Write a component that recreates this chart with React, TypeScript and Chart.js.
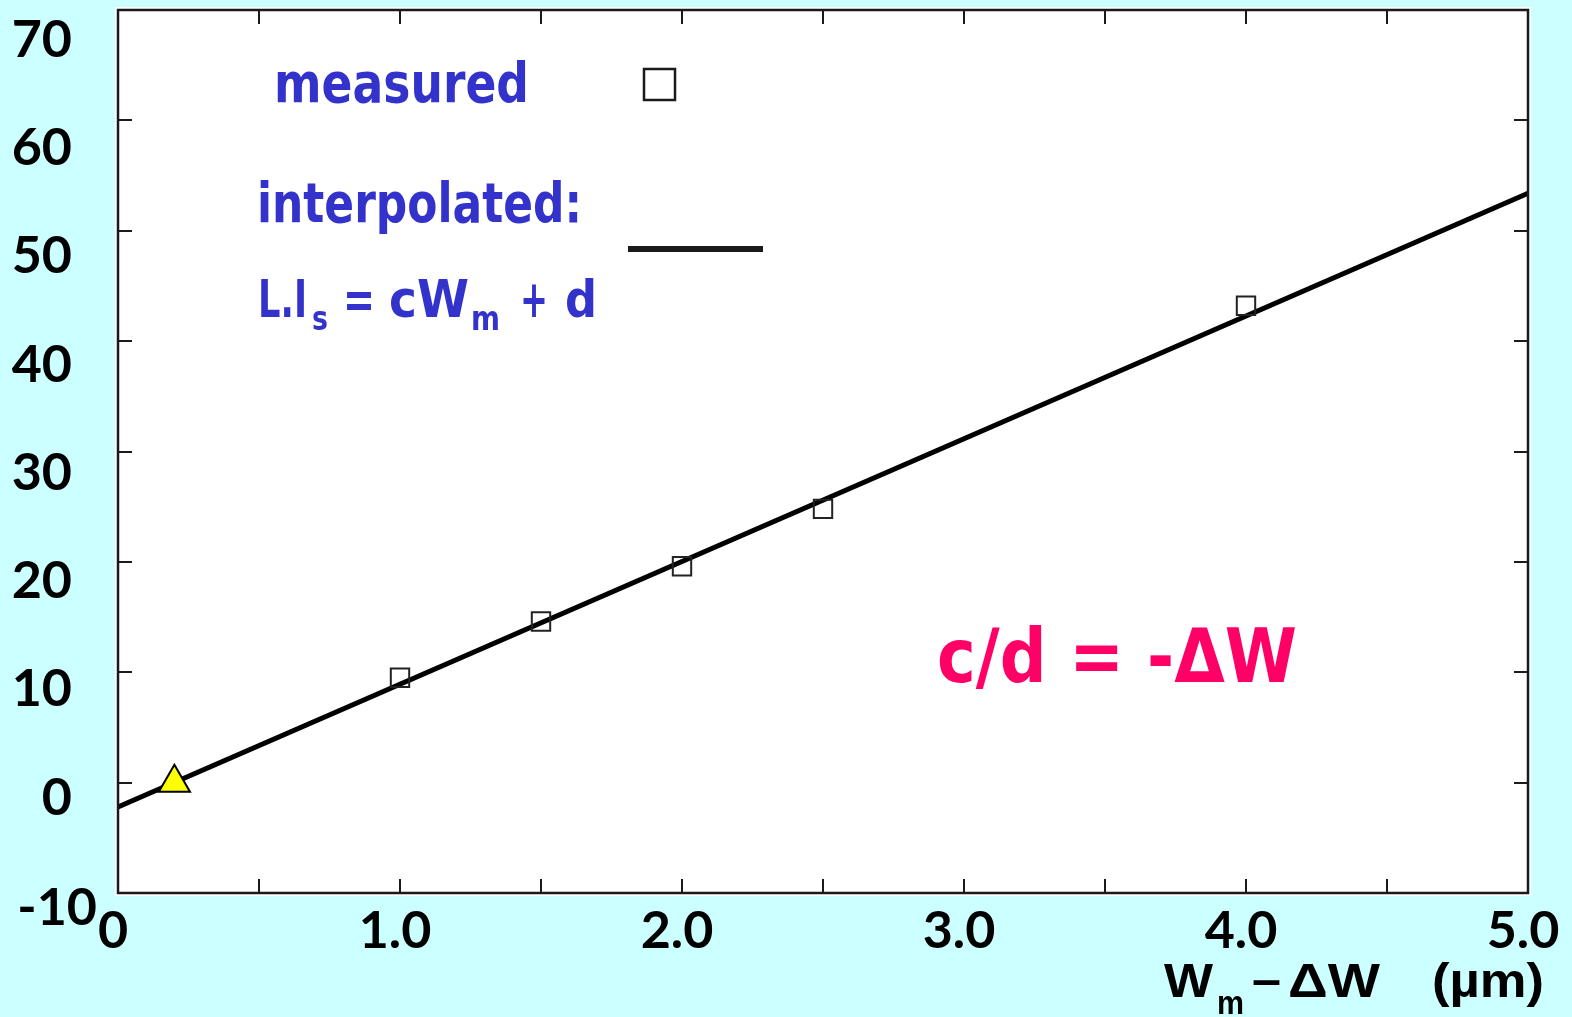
import React, { useEffect, useRef } from 'react';
import { Chart, registerables } from 'chart.js';

Chart.register(...registerables);

// ---- data ----
const measuredX = [1.0, 1.5, 2.0, 2.5, 4.0];
const measuredY = [9.5, 14.6, 19.6, 24.8, 43.2];
const fitX = [0, 5.0];
const fitY = [-2.2, 53.4];
const interceptX = [0.2];
const interceptY = [0];
const xTickValues = [0, 1, 2, 3, 4, 5];
const xTickLabels = ['0', '1.0', '2.0', '3.0', '4.0', '5.0'];
const yTickValues = [-10, 0, 10, 20, 30, 40, 50, 60, 70];
const yTickLabels = ['-10', '0', '10', '20', '30', '40', '50', '60', '70'];

const BLUE = '#3333cc';
const PINK = '#ff0066';
const CYAN = '#ccffff';
const INK = '#1a1a1a';
const DIGIT_FONT = 'bold 52px Lato';
const GEO = '"DejaVu Sans"';

// draw text, squeezed horizontally to a target width when given
function drawText(ctx: CanvasRenderingContext2D, text: string, x: number, y: number, font: string, width?: number) {
  ctx.font = font;
  const w = ctx.measureText(text).width;
  ctx.save();
  ctx.translate(x, y);
  if (width && w > 0) ctx.scale(width / w, 1);
  ctx.fillText(text, 0, 0);
  ctx.restore();
}

const backgroundPlugin = {
  id: 'bg',
  beforeDraw(chart: any) {
    const { ctx, chartArea } = chart;
    ctx.save();
    ctx.fillStyle = CYAN;
    ctx.fillRect(0, 0, chart.width, chart.height);
    ctx.fillStyle = '#ffffff';
    ctx.fillRect(chartArea.left - 3, chartArea.top - 3, chartArea.right - chartArea.left + 6, chartArea.bottom - chartArea.top + 6);
    ctx.restore();
  },
};

const frameTicksPlugin = {
  id: 'frameTicks',
  afterDatasetsDraw(chart: any) {
    const { ctx, chartArea, scales } = chart;
    const { left, right, top, bottom } = chartArea;
    const len = 14;
    ctx.save();
    ctx.strokeStyle = INK;
    ctx.lineWidth = 2;
    ctx.beginPath();
    scales.x.ticks.forEach((t: any) => {
      const px = Math.round(scales.x.getPixelForValue(t.value));
      if (px <= left + 1 || px >= right - 1) return;
      ctx.moveTo(px, bottom);
      ctx.lineTo(px, bottom - len);
      ctx.moveTo(px, top);
      ctx.lineTo(px, top + len);
    });
    scales.y.ticks.forEach((t: any) => {
      const py = Math.round(scales.y.getPixelForValue(t.value));
      if (py <= top + 1 || py >= bottom - 1) return;
      ctx.moveTo(left, py);
      ctx.lineTo(left + len, py);
      ctx.moveTo(right, py);
      ctx.lineTo(right - len, py);
    });
    ctx.stroke();
    ctx.lineWidth = 2.5;
    ctx.strokeRect(left, top, right - left, bottom - top);
    ctx.restore();
  },
};

const annotationsPlugin = {
  id: 'annotations',
  afterDraw(chart: any) {
    const { ctx, scales } = chart;
    ctx.save();
    ctx.textBaseline = 'alphabetic';
    ctx.textAlign = 'left';

    // y tick labels (right aligned, left of the frame)
    ctx.fillStyle = '#000';
    ctx.font = DIGIT_FONT;
    ctx.textAlign = 'right';
    yTickValues.forEach((v, i) => {
      const py = scales.y.getPixelForValue(v);
      const isBottom = v === yTickValues[0];
      const xr = isBottom ? 97 : 72;
      const base = py + 32 + Math.max(v, 0) * 0.21;
      ctx.fillText(yTickLabels[i], xr, base);
    });
    ctx.textAlign = 'left';

    // legend texts
    ctx.fillStyle = BLUE;
    const big = `bold 55px ${GEO}`;
    const sub = `bold 33px ${GEO}`;
    drawText(ctx, 'measured', 274, 102, big, 255);
    drawText(ctx, 'interpolated:', 257, 222, big, 325);

    // L.I_s = cW_m + d
    drawText(ctx, 'L.I', 258, 317, `bold 51px ${GEO}`, 49);
    drawText(ctx, 's', 312, 330, sub, 16);
    drawText(ctx, '=', 343, 317, `bold 51px ${GEO}`, 32);
    drawText(ctx, 'cW', 389, 317, `bold 51px ${GEO}`, 80);
    drawText(ctx, 'm', 471, 330, sub, 29);
    drawText(ctx, '+', 520, 317, `bold 51px ${GEO}`, 28);
    drawText(ctx, 'd', 565, 317, `bold 51px ${GEO}`, 32);

    // legend symbols
    ctx.strokeStyle = INK;
    ctx.lineWidth = 2.5;
    ctx.strokeRect(644, 69, 31, 31);
    ctx.lineWidth = 6;
    ctx.beginPath();
    ctx.moveTo(628, 249);
    ctx.lineTo(763, 249);
    ctx.stroke();

    // c/d = -ΔW
    ctx.fillStyle = PINK;
    drawText(ctx, 'c/d = -\u0394W', 937, 682, `bold 75px ${GEO}`, 360);

    // x axis title: W_m – ΔW   (µm)
    ctx.fillStyle = '#000';
    const tFont = 'bold 48px "Liberation Sans"';
    const tSub = 'bold 34px "Liberation Sans"';
    const tb = 997;
    drawText(ctx, 'W', 1164, tb, tFont, 49);
    drawText(ctx, 'm', 1217, tb + 17, tSub, 27);
    drawText(ctx, '\u2013', 1252, tb - 1, tFont, 29);
    drawText(ctx, '\u0394W', 1288, tb, tFont, 92);
    drawText(ctx, '(\u00b5m)', 1432, tb, tFont, 112);
    ctx.restore();
  },
};

export default function App() {
  const ref = useRef<HTMLCanvasElement | null>(null);

  useEffect(() => {
    document.body.style.margin = '0';
    document.body.style.background = CYAN;
    const canvas = ref.current;
    if (!canvas) return;
    const chart = new Chart(canvas, {
      type: 'scatter',
      data: {
        datasets: [
          {
            type: 'line',
            label: 'interpolated',
            data: fitX.map((v, i) => ({ x: v, y: fitY[i] })),
            borderColor: '#000',
            borderWidth: 5,
            pointRadius: 0,
            fill: false,
            order: 3,
          } as any,
          {
            label: 'measured',
            data: measuredX.map((v, i) => ({ x: v, y: measuredY[i] })),
            pointStyle: 'rect',
            pointRadius: 13,
            borderColor: '#222',
            borderWidth: 2,
            backgroundColor: 'rgba(0,0,0,0)',
            order: 2,
          },
          {
            label: 'intercept',
            data: interceptX.map((v, i) => ({ x: v, y: interceptY[i] })),
            pointStyle: 'triangle',
            pointRadius: 18,
            borderColor: '#000',
            borderWidth: 2,
            backgroundColor: '#ffff00',
            order: 1,
          },
        ],
      },
      options: {
        animation: false,
        responsive: false,
        maintainAspectRatio: false,
        events: [],
        layout: { autoPadding: false, padding: { left: 0, top: 10, right: 44, bottom: 0 } },
        plugins: {
          legend: { display: false },
          tooltip: { enabled: false },
        },
        scales: {
          x: {
            type: 'linear',
            min: 0,
            max: 5,
            grid: { display: false, drawTicks: false },
            border: { display: false },
            afterFit: (s: any) => {
              s.height = 124;
              s.paddingLeft = 0;
              s.paddingRight = 0;
            },
            ticks: {
              stepSize: 0.5,
              autoSkip: false,
              maxRotation: 0,
              padding: 7,
              labelOffset: -5,
              color: '#000',
              font: { family: 'Lato', weight: 'bold', size: 52 },
              callback: (v: any) => {
                const idx = xTickValues.indexOf(Number(v));
                return idx >= 0 ? xTickLabels[idx] : '';
              },
            },
          },
          y: {
            type: 'linear',
            min: -10,
            max: 70,
            grid: { display: false, drawTicks: false },
            border: { display: false },
            afterFit: (s: any) => {
              s.width = 118;
              s.paddingTop = 0;
              s.paddingBottom = 0;
            },
            ticks: {
              stepSize: 10,
              display: false,
            },
          },
        },
      },
      plugins: [backgroundPlugin, frameTicksPlugin, annotationsPlugin],
    });
    return () => chart.destroy();
  }, []);

  return (
    <div style={{ position: 'fixed', left: 0, top: 0, width: 1572, height: 1017, background: CYAN }}>
      <canvas ref={ref} width={1572} height={1017} style={{ display: 'block' }} />
    </div>
  );
}
